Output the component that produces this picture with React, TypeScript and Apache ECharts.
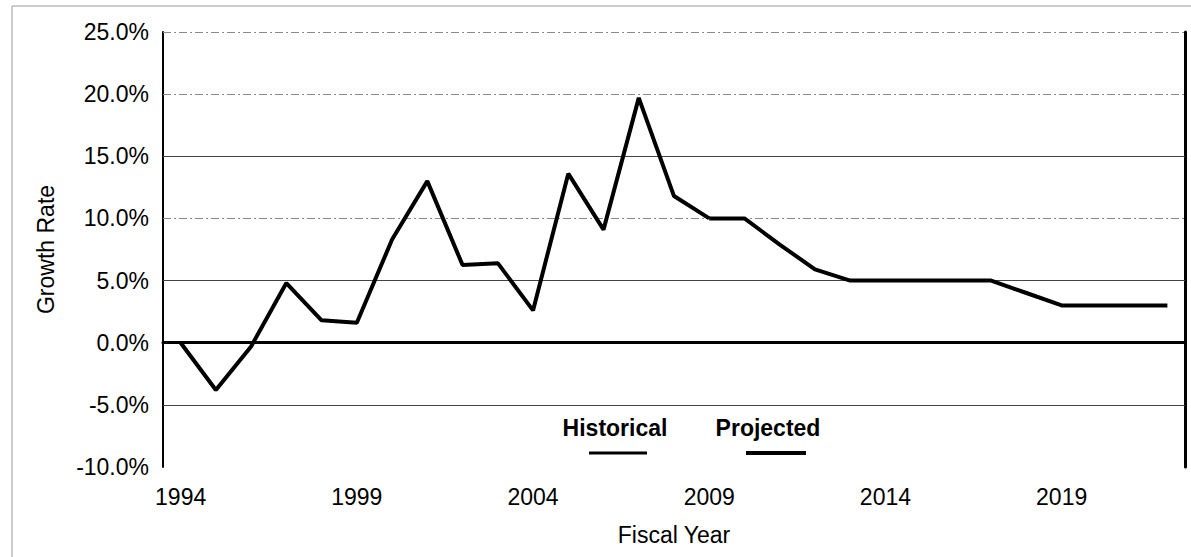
import React, { useEffect, useRef } from "react";
import * as echarts from "echarts";

const years = [
  "1994", "1995", "1996", "1997", "1998", "1999", "2000", "2001", "2002", "2003",
  "2004", "2005", "2006", "2007", "2008", "2009", "2010", "2011", "2012", "2013",
  "2014", "2015", "2016", "2017", "2018", "2019", "2020", "2021", "2022",
];

// Growth rate (%) — historical through FY2009, projected afterwards
const historical = [
  0.0, -3.8, -0.3, 4.8, 1.8, 1.6, 8.3, 13.0, 6.25, 6.4,
  2.6, 13.6, 9.1, 19.7, 11.8, 10.0, null, null, null, null,
  null, null, null, null, null, null, null, null, null,
];
const projected = [
  null, null, null, null, null, null, null, null, null, null,
  null, null, null, null, null, 10.0, 10.0, 7.9, 5.9, 5.0,
  5.0, 5.0, 5.0, 5.0, 4.0, 3.0, 3.0, 3.0, 3.0,
];

const yMin = -10;
const yMax = 25;
const yStep = 5;
const solidGrid = [15, 5, -5];
const dottedGrid = [25, 20, 10];
const zeroLine = [0];

const FONT = "'Liberation Sans', Arial, Helvetica, sans-serif";

export default function App() {
  const ref = useRef<HTMLDivElement>(null);

  useEffect(() => {
    if (!ref.current) return;
    const chart = echarts.init(ref.current, undefined, { renderer: "svg" });

    const gridMarks = [
      ...dottedGrid.map((v) => ({
        yAxis: v,
        lineStyle: { color: "#8a8a8a", width: 1, type: [8, 3, 2, 3] },
      })),
      ...solidGrid.map((v) => ({
        yAxis: v,
        lineStyle: { color: "#444", width: 1, type: "solid" },
      })),
      ...zeroLine.map((v) => ({
        yAxis: v,
        lineStyle: { color: "#000", width: 1.6, type: "solid" },
      })),
    ];

    const lineStyleCommon = { color: "#000", width: 4 };

    chart.setOption({
      animation: false,
      backgroundColor: "#fff",
      textStyle: { fontFamily: FONT, color: "#000" },
      grid: { left: 163, right: 6, top: 32, bottom: 90, containLabel: false },
      xAxis: {
        type: "category",
        data: years,
        boundaryGap: true,
        name: "Fiscal Year",
        nameLocation: "middle",
        nameGap: 56,
        nameTextStyle: { fontSize: 23, color: "#000", fontFamily: FONT },
        axisLine: { show: true, lineStyle: { color: "#000", width: 3 } },
        axisTick: { show: false },
        axisLabel: {
          interval: 4,
          fontSize: 23,
          color: "#000",
          margin: 18,
          fontFamily: FONT,
        },
        splitLine: { show: false },
      },
      yAxis: [
        {
          type: "value",
          min: yMin,
          max: yMax,
          interval: yStep,
          name: "Growth Rate",
          nameLocation: "middle",
          nameGap: 106,
          nameTextStyle: { fontSize: 23, color: "#000", fontFamily: FONT },
          axisLine: { show: true, lineStyle: { color: "#000", width: 2 } },
          axisTick: { show: false },
          axisLabel: {
            fontSize: 23,
            color: "#000",
            margin: 14,
            fontFamily: FONT,
            formatter: (v: number) => v.toFixed(1) + "%",
          },
          splitLine: { show: false },
        },
        {
          type: "value",
          position: "right",
          min: yMin,
          max: yMax,
          interval: yStep,
          axisLine: { show: true, lineStyle: { color: "#000", width: 3 } },
          axisTick: { show: false },
          axisLabel: { show: false },
          splitLine: { show: false },
        },
      ],
      series: [
        {
          name: "Historical",
          type: "line",
          data: historical,
          symbol: "none",
          lineStyle: lineStyleCommon,
          connectNulls: false,
          z: 5,
          markLine: {
            silent: true,
            symbol: ["none", "none"],
            label: { show: false },
            z: 1,
            data: gridMarks,
          },
        },
        {
          name: "Projected",
          type: "line",
          data: projected,
          symbol: "none",
          lineStyle: lineStyleCommon,
          connectNulls: false,
          z: 5,
        },
      ],
      graphic: [
        {
          type: "rect",
          shape: { x: 12, y: 6, width: 1200, height: 600 },
          style: { fill: "none", stroke: "#999", lineWidth: 1 },
          silent: true,
        },
        {
          type: "text",
          x: 615,
          y: 428,
          style: {
            text: "Historical",
            font: `bold 23px ${FONT}`,
            fill: "#000",
            textAlign: "center",
            textVerticalAlign: "middle",
          },
        },
        {
          type: "line",
          shape: { x1: 589, y1: 453, x2: 647, y2: 453 },
          style: { stroke: "#000", lineWidth: 3 },
        },
        {
          type: "text",
          x: 768,
          y: 428,
          style: {
            text: "Projected",
            font: `bold 23px ${FONT}`,
            fill: "#000",
            textAlign: "center",
            textVerticalAlign: "middle",
          },
        },
        {
          type: "line",
          shape: { x1: 746, y1: 453, x2: 806, y2: 453 },
          style: { stroke: "#000", lineWidth: 4 },
        },
      ],
    });

    return () => chart.dispose();
  }, []);

  return (
    <div
      ref={ref}
      style={{ position: "fixed", left: 0, top: 0, width: 1191, height: 557, background: "#fff" }}
    />
  );
}
